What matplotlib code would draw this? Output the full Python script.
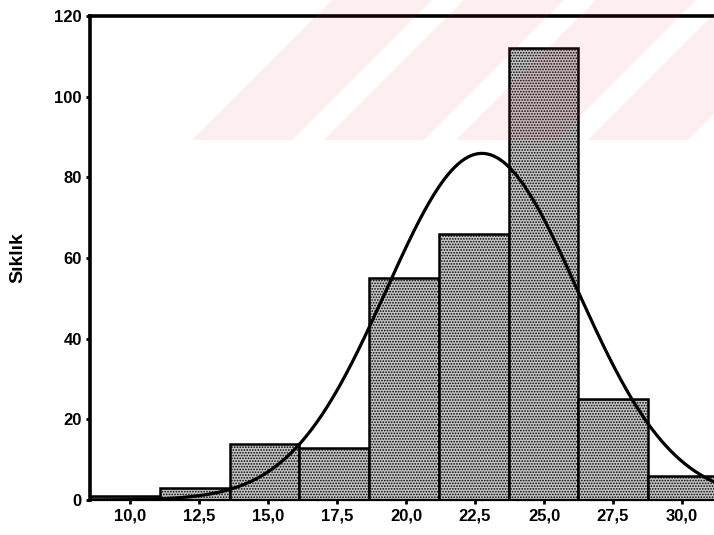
import matplotlib
matplotlib.use("Agg")
import matplotlib.pyplot as plt
import numpy as np
from matplotlib.patches import Polygon

# histogram data
bin_edges = [8.56, 11.09, 13.61, 16.14, 18.66, 21.19, 23.72, 26.24, 28.77, 31.30]
counts = [1, 3, 14, 13, 55, 66, 112, 25, 6]

# fitted normal curve
fit_mean = 22.75
fit_sd = 3.46

x_ticks = [10.0, 12.5, 15.0, 17.5, 20.0, 22.5, 25.0, 27.5, 30.0]
x_tick_labels = ["10,0", "12,5", "15,0", "17,5", "20,0", "22,5", "25,0", "27,5", "30,0"]
y_ticks = [0, 20, 40, 60, 80, 100, 120]
y_label = "Sıklık"

plt.rcParams["font.family"] = ["Liberation Sans", "DejaVu Sans"]
plt.rcParams["font.weight"] = "bold"
plt.rcParams["hatch.linewidth"] = 0.8

W, H = 714, 535
fig = plt.figure(figsize=(W / 100, H / 100), dpi=100)

# axes runs off the right edge of the scan, as in the original
ax = fig.add_axes([90.3 / W, 35 / H, (737.2 - 90.3) / W, 484 / H])
ax.set_xlim(bin_edges[0], 32.0)
ax.set_ylim(0, 120)

widths = np.diff(bin_edges)
ax.bar(bin_edges[:-1], counts, width=widths, align="edge",
       facecolor="#c4c4c4", edgecolor="black", linewidth=1.8,
       hatch="......", zorder=2)

n = sum(counts)
bw = float(np.mean(widths))
xs = np.linspace(bin_edges[0], 32.0, 400)
ys = n * bw / (fit_sd * np.sqrt(2 * np.pi)) * np.exp(-0.5 * ((xs - fit_mean) / fit_sd) ** 2)
ax.plot(xs, ys, color="black", linewidth=2.3, zorder=3)

ax.set_xticks(x_ticks)
ax.set_xticklabels(x_tick_labels, fontsize=12, fontweight="bold")
ax.set_yticks(y_ticks)
ax.set_yticklabels([str(v) for v in y_ticks], fontsize=12, fontweight="bold")
ax.tick_params(axis="both", direction="out", length=3, width=2, pad=3)
ax.set_ylabel(y_label, fontsize=14, fontweight="bold", labelpad=20)

ax.spines["left"].set_linewidth(2.6)
ax.spines["top"].set_linewidth(2.6)
ax.spines["bottom"].set_linewidth(1.6)
ax.spines["right"].set_visible(False)

# faint pink diagonal watermark stripes at the top of the scan
for i in range(5):
    x0 = 192 + 132 * i
    pts = [(x0, 140), (x0 + 100, 140), (x0 + 240, 0), (x0 + 140, 0)]
    pts = [(px / W, 1 - py / H) for px, py in pts]
    fig.patches.append(Polygon(pts, closed=True, transform=fig.transFigure,
                               facecolor=(0.94, 0.16, 0.24), alpha=0.08,
                               edgecolor="none", zorder=10))

fig.savefig("out.png", dpi=100)
